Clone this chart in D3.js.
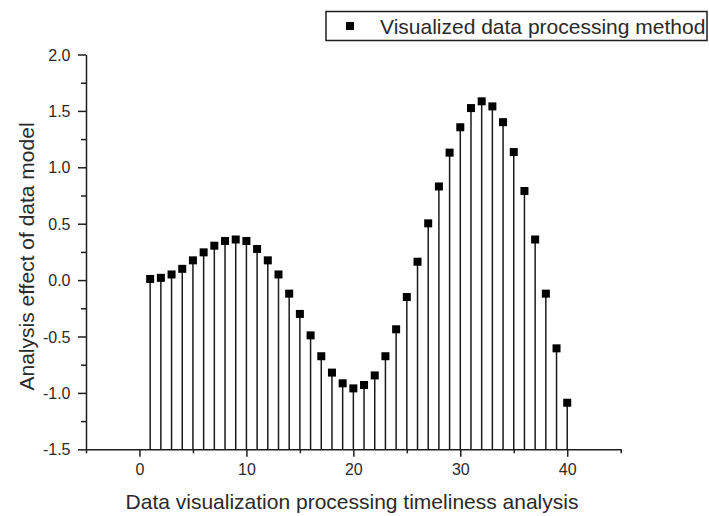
<!DOCTYPE html>
<html>
<head>
<meta charset="utf-8">
<script src="https://cdn.jsdelivr.net/npm/d3@7"></script>
<style>
  html, body { margin: 0; padding: 0; background: #fff; }
  svg { display: block; font-family: "Liberation Sans", Arial, sans-serif; }
</style>
</head>
<body>
<svg id="chart" width="709" height="516"></svg>
<script>
// ---- data ----
const xValues = [1,2,3,4,5,6,7,8,9,10,11,12,13,14,15,16,17,18,19,20,
                 21,22,23,24,25,26,27,28,29,30,31,32,33,34,35,36,37,38,39,40];
const yValues = [0.01,0.02,0.05,0.10,0.175,0.246,0.305,0.347,0.36,0.347,
                 0.276,0.175,0.05,-0.12,-0.30,-0.49,-0.675,-0.82,-0.915,-0.96,
                 -0.93,-0.845,-0.675,-0.436,-0.15,0.163,0.503,0.83,1.13,1.355,
                 1.525,1.585,1.54,1.40,1.135,0.79,0.36,-0.12,-0.605,-1.087];
const xMajorTicks = [0,10,20,30,40];
const xMinorTicks = [-5,5,15,25,35,45];
const yMajorTicks = [-1.5,-1.0,-0.5,0.0,0.5,1.0,1.5,2.0];
const yMinorTicks = [-1.25,-0.75,-0.25,0.25,0.75,1.25,1.75];
const seriesName = "Visualized data processing method";
const xTitle = "Data visualization processing timeliness analysis";
const yTitle = "Analysis effect of data model";

const data = xValues.map((x, i) => ({x, y: yValues[i]}));

// ---- layout ----
const svg = d3.select("#chart");
const plotL = 86, plotR = 620.7, plotT = 54.5, plotB = 449.3;
const x = d3.scaleLinear().domain([-5, 45]).range([plotL, plotR]);
const y = d3.scaleLinear().domain([-1.5, 2.0]).range([plotB, plotT]);
const axisColor = "#1e1e1e";
const textColor = "#2a2a2a";
const hyphenFmt = f => (v => f(v).replace("\u2212", "-"));

// stems
svg.append("g").selectAll("line").data(data).join("line")
  .attr("x1", d => x(d.x)).attr("x2", d => x(d.x))
  .attr("y1", d => y(d.y)).attr("y2", y(-1.5))
  .attr("stroke", "#1a1a1a").attr("stroke-width", 1.5);

// markers
const ms = 8;
svg.append("g").selectAll("rect").data(data).join("rect")
  .attr("x", d => x(d.x) - ms / 2).attr("y", d => y(d.y) - ms / 2)
  .attr("width", ms).attr("height", ms).attr("fill", "#000");

// x axis
const gx = svg.append("g").attr("transform", `translate(0,${plotB})`);
gx.call(d3.axisBottom(x).tickValues(xMajorTicks).tickSize(7.5).tickSizeOuter(0).tickFormat(d3.format("d")));
gx.append("g").call(d3.axisBottom(x).tickValues(xMinorTicks).tickSize(4).tickSizeOuter(0).tickFormat(""))
  .select(".domain").remove();
gx.selectAll("text").attr("y", 25.5).attr("dy", 0)
  .attr("font-size", 16).attr("fill", textColor).attr("font-family", "Liberation Sans, Arial, sans-serif");

// y axis
const gy = svg.append("g").attr("transform", `translate(${plotL},0)`);
gy.call(d3.axisLeft(y).tickValues(yMajorTicks).tickSize(8).tickSizeOuter(0).tickFormat(hyphenFmt(d3.format(".1f"))));
gy.append("g").call(d3.axisLeft(y).tickValues(yMinorTicks).tickSize(5).tickSizeOuter(0).tickFormat(""))
  .select(".domain").remove();
gy.selectAll("text").attr("x", -15.5).attr("dy", "0.35em")
  .attr("font-size", 16).attr("fill", textColor).attr("font-family", "Liberation Sans, Arial, sans-serif");

svg.selectAll(".domain, .tick line").attr("stroke", axisColor).attr("stroke-width", 1.5);

// axis titles
svg.append("text").attr("x", (126 + 578) / 2).attr("y", 509)
  .attr("text-anchor", "middle").attr("font-size", 21).attr("fill", textColor)
  .text(xTitle);
svg.append("text").attr("transform", `translate(34,${(117 + 396) / 2}) rotate(-90)`)
  .attr("text-anchor", "middle").attr("font-size", 21).attr("fill", textColor)
  .text(yTitle);

// legend
const lg = svg.append("g");
lg.append("rect").attr("x", 326).attr("y", 11.5).attr("width", 381).attr("height", 29)
  .attr("fill", "#fff").attr("stroke", axisColor).attr("stroke-width", 1.5);
lg.append("rect").attr("x", 350 - ms / 2).attr("y", 26 - ms / 2).attr("width", ms).attr("height", ms).attr("fill", "#000");
lg.append("text").attr("x", 380).attr("y", 33.5).attr("font-size", 21).attr("fill", textColor)
  .text(seriesName);
</script>
</body>
</html>
